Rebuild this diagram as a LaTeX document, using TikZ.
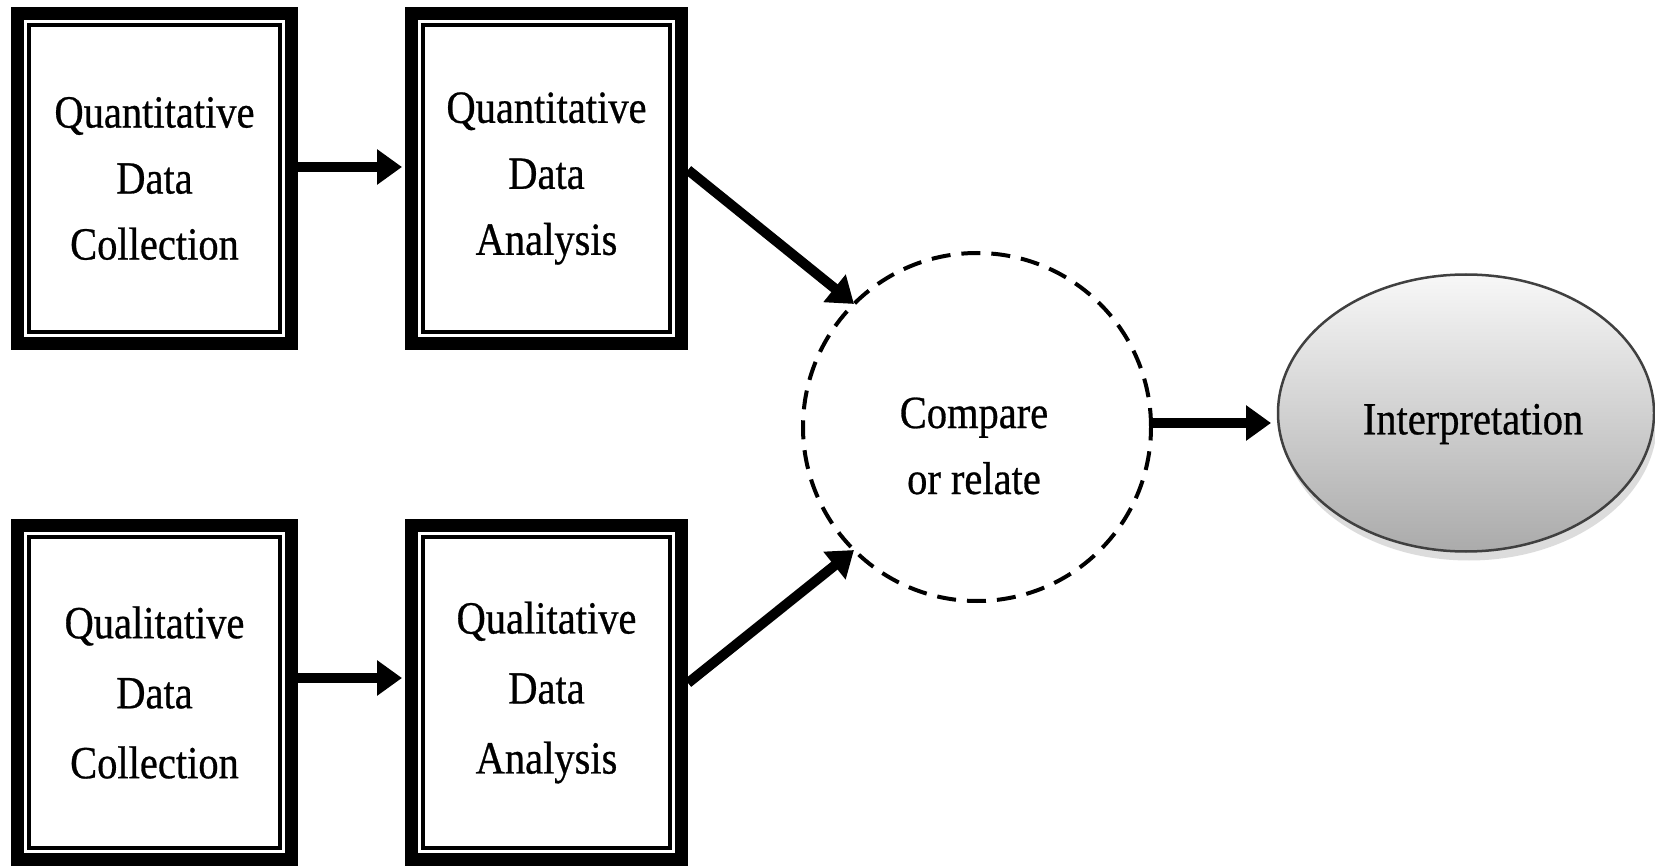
\documentclass[tikz,border=0pt]{standalone}
\usepackage{fontspec}
\setmainfont{Liberation Serif}[FakeStretch=0.88,FakeBold=0.6]
\usetikzlibrary{arrows.meta,shadows,shapes.geometric}
\begin{document}
\begin{tikzpicture}[x=1pt,y=-1pt,
  boxnode/.style={draw=black,line width=13pt,outer sep=6.5pt,fill=white,
    minimum width=274pt,minimum height=330pt,inner sep=0pt,align=center,
    font=\fontsize{46}{66}\selectfont},
  lowbox/.style={boxnode,minimum height=334pt,font=\fontsize{46}{70}\selectfont},
  innerline/.style={draw=black,line width=3.5pt},
  flow/.style={line width=10pt,-{Triangle[length=25pt,width=34pt]}},
  cmpnode/.style={circle,draw=black,line width=4pt,dash pattern=on 19pt off 11pt,
    minimum size=348pt,inner sep=0pt,outer sep=0pt},
  txt/.style={align=center,inner sep=0pt,font=\fontsize{46}{66}\selectfont},
  interp/.style={ellipse,draw=black!75,line width=2.5pt,minimum width=376pt,
    minimum height=277pt,inner sep=0pt,outer sep=0pt,
    top color=gray!6,bottom color=gray!66,
    drop shadow={shadow xshift=3pt,shadow yshift=-9pt,fill=gray!45,opacity=0.6}}
]
\useasboundingbox (0,0) rectangle (1655,866);
\fill[white] (0,0) rectangle (1655,866);

\node[boxnode] (b1) at (154.5,178.5) {Quantitative\\Data\\Collection};
\node[boxnode,minimum width=270pt] (b2) at (546.5,178.5) {Quantitative\\Data\\Analysis};
\node[lowbox] (b3) at (154.5,692.5) {Qualitative\\Data\\Collection};
\node[lowbox,minimum width=270pt] (b4) at (546.5,692.5) {Qualitative\\Data\\Analysis};

\foreach \n in {b1,b2,b3,b4}
  \draw[innerline] ([shift={(18,18)}]\n.north west) rectangle ([shift={(-18,-18)}]\n.south east);

\node[cmpnode] (c) at (977,427) {};
\node[txt] (ct) at (974,446) {Compare\\or relate};

\node[interp] (e) at (1466,413) {};
\node[txt] (et) at (1473,424) {Interpretation};

\draw[flow,shorten >=3pt] ([yshift=11.5pt]b1.east) -- ([yshift=11.5pt]b2.west);
\draw[flow,shorten >=3pt] ([yshift=14.5pt]b3.east) -- ([yshift=14.5pt]b4.west);
\draw[flow] ([yshift=8.5pt]b2.east) -- (c.135);
\draw[flow] ([yshift=9.5pt]b4.east) -- (c.225);
\draw[flow,shorten >=7pt] ([yshift=4pt]c.east) -- ([yshift=-10pt]e.west);
\end{tikzpicture}
\end{document}
